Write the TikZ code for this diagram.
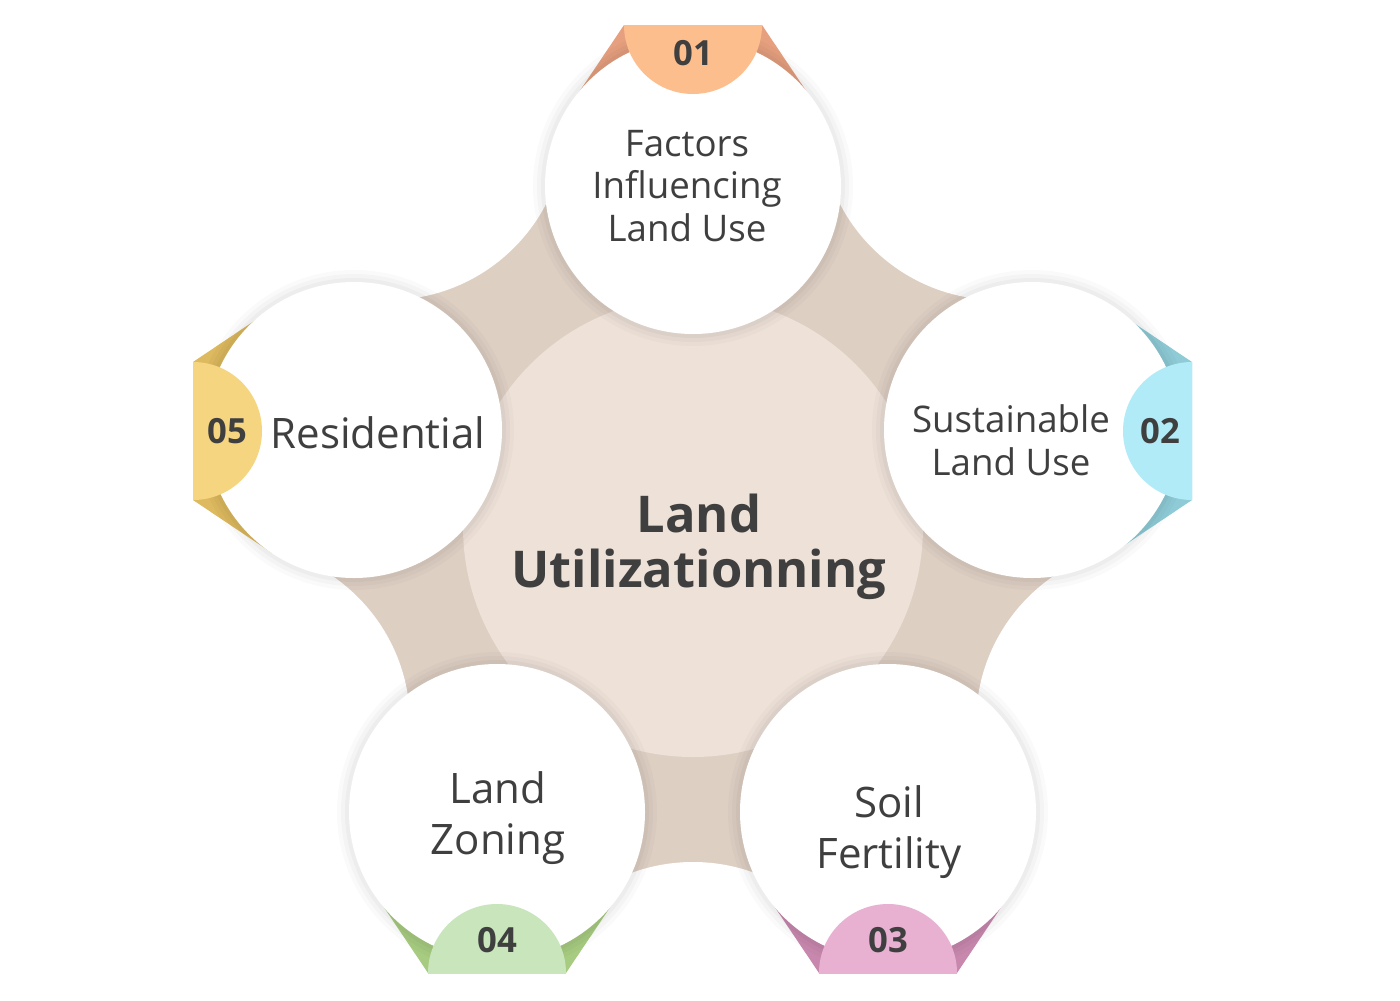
\documentclass[tikz,border=0pt]{standalone}
\usepackage{fontspec}
\setmainfont{Open Sans}

\definecolor{landbg}{HTML}{DECFC3}
\definecolor{landcore}{HTML}{EDE1D8}
\definecolor{txtgray}{HTML}{3F3F3F}
\definecolor{peachA}{HTML}{FDBE8E}
\definecolor{peachB}{HTML}{E6A07F}
\definecolor{aquaA}{HTML}{B0EBF7}
\definecolor{aquaB}{HTML}{8ECBD7}
\definecolor{pinkA}{HTML}{E8B0D1}
\definecolor{pinkB}{HTML}{C888AE}
\definecolor{leafA}{HTML}{C8E5BC}
\definecolor{leafB}{HTML}{A7CB80}
\definecolor{sunA}{HTML}{F6D581}
\definecolor{sunB}{HTML}{DDB95F}

\begin{document}
\begin{tikzpicture}[x=0.75pt,y=0.75pt,yscale=-1,
    topic/.style={fill=white,
        preaction={draw=black, draw opacity=0.018, line width=18pt},
        preaction={draw=black, draw opacity=0.022, line width=12pt},
        preaction={draw=black, draw opacity=0.028, line width=6pt}},
    lbl/.style={text=txtgray, align=center, font=\fontsize{27.5}{32}\selectfont},
    biglbl/.style={text=txtgray, align=center, font=\fontsize{31.5}{38}\selectfont},
    corelbl/.style={text=txtgray, align=center, font=\bfseries\fontsize{38}{41}\selectfont},
    numlbl/.style={text=txtgray, font=\bfseries\fontsize{26}{30}\selectfont}]
    \useasboundingbox (0,0) rectangle (1400,1000);

    %Shape: Beige base
    \fill[landbg] (693,527) circle (395);

    %Shape: Gaps between the topics
    \fill[white] (998,122) circle (178);
    \fill[white] (1154,723) circle (178);
    \fill[white] (693,1040) circle (178);
    \fill[white] (232,723) circle (178);
    \fill[white] (388,122) circle (178);

    %Shape: Core circle
    \fill[landcore] (693,527) circle (230);

    %Shape: Ribbon flaps behind the badges
    \begin{scope}[shift={(693,25)}, rotate=0]
        \fill[peachB] (-69,0) -- (69,0) -- (122,79) -- (0,161) -- (-122,79) -- cycle;
    \end{scope}
    \begin{scope}[shift={(1192,431)}, rotate=90]
        \fill[aquaB] (-69,0) -- (69,0) -- (122,79) -- (0,161) -- (-122,79) -- cycle;
    \end{scope}
    \begin{scope}[shift={(888,973)}, rotate=180]
        \fill[pinkB] (-69,0) -- (69,0) -- (122,79) -- (0,161) -- (-122,79) -- cycle;
    \end{scope}
    \begin{scope}[shift={(497,973)}, rotate=180]
        \fill[leafB] (-69,0) -- (69,0) -- (122,79) -- (0,161) -- (-122,79) -- cycle;
    \end{scope}
    \begin{scope}[shift={(193,431)}, rotate=-90]
        \fill[sunB] (-69,0) -- (69,0) -- (122,79) -- (0,161) -- (-122,79) -- cycle;
    \end{scope}

    %Shape: Topic circles
    \path[topic] (693,186) circle (148);
    \path[topic] (1032,430) circle (148);
    \path[topic] (888,812) circle (148);
    \path[topic] (497,812) circle (148);
    \path[topic] (354,430) circle (148);

    %Shape: Badges, cut at the frame
    \begin{scope}
        \clip (193,25) rectangle (1192,973);
        \fill[peachA] (693,25) circle (69);
        \fill[aquaA] (1192,431) circle (69);
        \fill[pinkA] (888,973) circle (69);
        \fill[leafA] (497,973) circle (69);
        \fill[sunA] (193,431) circle (69);
    \end{scope}

    % Text Node
    \node (core) [corelbl] at (699,547) {Land\\Utilizationning};
    % Text Node
    \node (factors) [lbl] at (687,186) {Factors\\Influencing\\Land Use};
    % Text Node
    \node (sustain) [lbl] at (1011,440) {Sustainable\\Land Use};
    % Text Node
    \node (soil) [biglbl] at (889,832) {Soil\\Fertility};
    % Text Node
    \node (zoning) [biglbl] at (498,818) {Land\\Zoning};
    % Text Node
    \node (resid) [biglbl] at (378,433) {Residential};
    % Text Node
    \node (n01) [numlbl] at (693,53) {01};
    % Text Node
    \node (n02) [numlbl] at (1160,431) {02};
    % Text Node
    \node (n03) [numlbl] at (888,940) {03};
    % Text Node
    \node (n04) [numlbl] at (497,940) {04};
    % Text Node
    \node (n05) [numlbl] at (227,431) {05};
\end{tikzpicture}
\end{document}
